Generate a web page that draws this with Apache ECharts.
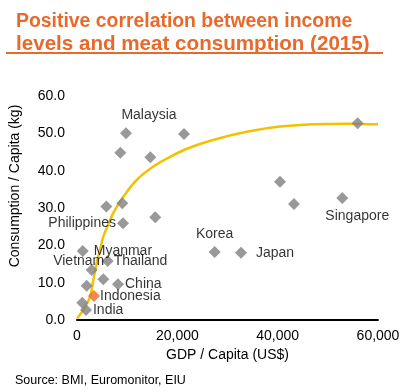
<!DOCTYPE html>
<html><head><meta charset="utf-8">
<script src="https://cdn.jsdelivr.net/npm/echarts@6/dist/echarts.min.js"></script>
<style>html,body{margin:0;padding:0;background:#fff}#c{width:405px;height:392px}</style>
</head><body><div id="c"></div>
<script>
const titleLine1 = 'Positive correlation between income';
const titleLine2 = 'levels and meat consumption (2015)';
const xName = 'GDP / Capita (US$)';
const yName = 'Consumption / Capita (kg)';
const sourceText = 'Source: BMI, Euromonitor, EIU';
const xTicks = [0, 20000, 40000, 60000];
const yTicks = [0, 10, 20, 30, 40, 50, 60];

const countries = ['Malaysia','','','','','','Philippines','','Myanmar','Thailand','Vietnam','','China','','Indonesia','','India','Korea','Japan','','','Singapore',''];
const gdp = [9770,21330,8630,14610,5840,9030,9170,15600,1140,6120,2930,5240,8170,1930,3390,1060,1790,27440,32690,40460,43250,52880,55940];
const meat = [50.0,49.8,44.8,43.6,30.4,31.3,25.9,27.5,18.5,15.8,13.4,10.9,9.6,9.2,6.4,4.6,2.7,18.2,18.0,37.0,31.1,32.7,52.7];

const trendX = [0,1260,2590,3250,3930,4580,5240,5920,7240,9230,11900,15210,18540,22180,27100,33820,40460,47040,53750,60000];
const trendY = [0.4,2.7,6.2,10.7,15.3,18.8,22.3,24.6,28.7,33.0,37.5,41.1,43.7,46.0,48.2,50.4,51.8,52.4,52.6,52.4];

const FONT = '"Liberation Sans", Arial, sans-serif';
const labelCfg = {
  'Malaysia': {position:'top', offset:[23,0]},
  'Philippines': {position:'left', distance:1},
  'Myanmar': {position:'right', distance:5},
  'Thailand': {position:'right', distance:0},
  'Vietnam': {position:'top', offset:[-13,9]},
  'China': {position:'right', distance:1},
  'Indonesia': {position:'right', distance:0},
  'India': {position:'right', distance:1},
  'Korea': {position:'top'},
  'Japan': {position:'right', distance:9},
  'Singapore': {position:'bottom', offset:[15,0]}
};

const scatterData = gdp.map((g,i)=>{
  const name = countries[i];
  const d = {value:[g, meat[i]], name:name};
  if (name === 'Indonesia') d.itemStyle = {color:'#F26A24'};
  if (name) {
    d.label = Object.assign({show:true, formatter:name, fontSize:14, color:'#000', fontFamily:FONT}, labelCfg[name]);
  } else d.label = {show:false};
  return d;
});

const TITLE_COLOR = '#E8692A';
const chart = echarts.init(document.getElementById('c'));
chart.setOption({
  animation:false,
  textStyle:{fontFamily:FONT},
  title:{text:'{a|' + titleLine1 + '}\n{b|' + titleLine2 + '}', left:11, top:5,
    textStyle:{fontWeight:'bold', color:TITLE_COLOR, fontFamily:FONT,
      rich:{
        a:{fontSize:19.4, lineHeight:23, fontWeight:'bold', color:TITLE_COLOR, fontFamily:FONT},
        b:{fontSize:20.6, lineHeight:23, fontWeight:'bold', color:TITLE_COLOR, fontFamily:FONT}
      }}},
  grid:{left:77, right:27, top:96, bottom:72},
  xAxis:{type:'value', min:xTicks[0], max:xTicks[xTicks.length-1], interval:20000,
    name:xName, nameLocation:'middle', nameGap:27,
    nameTextStyle:{fontSize:14, color:'#000', fontFamily:FONT},
    axisLine:{show:true, lineStyle:{color:'#000', width:2}},
    axisTick:{show:false}, splitLine:{show:false},
    axisLabel:{fontSize:14, color:'#000', margin:9, fontFamily:FONT, formatter:v=>v.toLocaleString('en-US')}},
  yAxis:{type:'value', min:yTicks[0], max:yTicks[yTicks.length-1], interval:10,
    axisLine:{show:false}, axisTick:{show:false}, splitLine:{show:false},
    axisLabel:{fontSize:14, color:'#000', margin:12, fontFamily:FONT, formatter:v=>v.toFixed(1)}},
  graphic:[
    {type:'line', shape:{x1:6, y1:53, x2:383, y2:53}, style:{stroke:TITLE_COLOR, lineWidth:2}},
    {type:'text', x:15, y:186, rotation:Math.PI/2, style:{text:yName, fontSize:14, fill:'#000', fontFamily:FONT, align:'center', verticalAlign:'middle'}},
    {type:'text', x:15, y:381, style:{text:sourceText, fontSize:12.5, fill:'#000', fontFamily:FONT, align:'left', verticalAlign:'middle'}}
  ],
  series:[
    {type:'line', data:trendX.map((x,i)=>[x,trendY[i]]), smooth:0.4, showSymbol:false, symbol:'none',
      lineStyle:{color:'#F2C200', width:2.5}, z:1},
    {type:'scatter', data:scatterData, symbol:'diamond', symbolSize:12, itemStyle:{color:'#808080'}, z:2}
  ]
});
</script></body></html>
